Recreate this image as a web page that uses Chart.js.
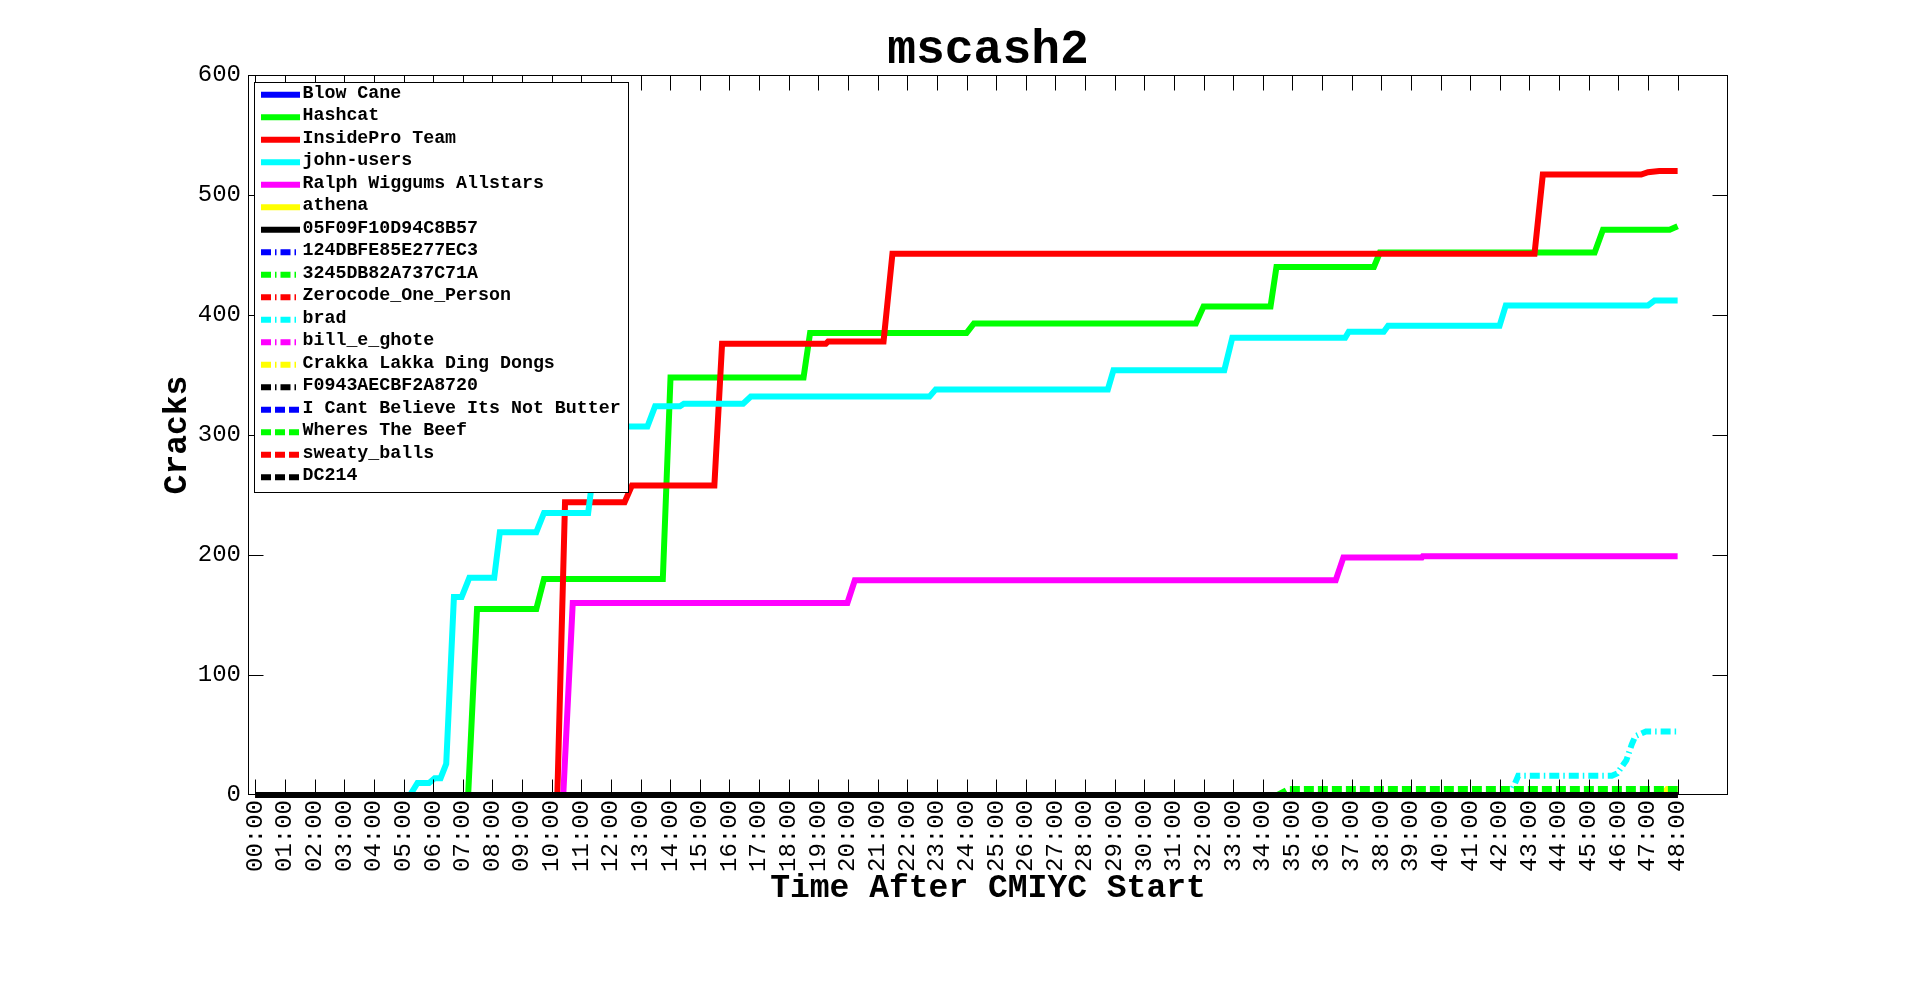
<!DOCTYPE html>
<html>
<head>
<meta charset="utf-8">
<title>mscash2</title>
<script src="https://cdn.jsdelivr.net/npm/chart.js@4.4.1/dist/chart.umd.min.js"></script>
<style>
  html, body { margin: 0; padding: 0; background: #fff; }
  canvas { display: block; }
</style>
</head>
<body>
<canvas id="myChart" width="1909" height="990"></canvas>
<script>
// cracks per team, x = hours after the contest started
const teams = [
  "Blow Cane", "Hashcat", "InsidePro Team", "john-users", "Ralph Wiggums Allstars",
  "athena", "05F09F10D94C8B57", "124DBFE85E277EC3", "3245DB82A737C71A",
  "Zerocode_One_Person", "brad", "bill_e_ghote", "Crakka Lakka Ding Dongs",
  "F0943AECBF2A8720", "I Cant Believe Its Not Butter", "Wheres The Beef",
  "sweaty_balls", "DC214"
];

const zeroHours = [0, 48];
const zeroCracks = [0, 0];

const hashcatHours = [0, 7.18, 7.48, 9.48, 9.74, 13.75, 14.01, 18.5, 18.72, 24.0, 24.25, 31.74, 32.0, 34.26, 34.46, 37.75, 37.95, 45.2, 45.48, 47.73, 48];
const hashcatCracks = [0, 0, 155, 155, 180, 180, 348, 348, 385, 385, 393, 393, 407, 407, 440, 440, 452, 452, 471, 471, 474];

const insideProHours = [0, 10.19, 10.45, 12.46, 12.71, 15.49, 15.75, 19.25, 19.33, 21.2, 21.5, 43.17, 43.45, 46.77, 47.0, 47.38, 48];
const insideProCracks = [0, 0, 244, 244, 258, 258, 376, 376, 378, 378, 451, 451, 517, 517, 519, 520, 520];

const johnHours = [0, 5.22, 5.47, 5.86, 6.05, 6.25, 6.44, 6.7, 6.96, 7.22, 8.06, 8.25, 9.48, 9.74, 11.23, 11.55, 11.8, 13.23, 13.49, 14.33, 14.46, 16.46, 16.72, 22.75, 22.96, 28.77, 28.96, 32.7, 32.97, 36.78, 36.9, 38.08, 38.23, 41.99, 42.2, 47.0, 47.22, 48];
const johnCracks = [0, 0, 10, 10, 14, 14, 26, 165, 165, 181, 181, 219, 219, 235, 235, 298, 307, 307, 324, 324, 326, 326, 332, 332, 338, 338, 354, 354, 381, 381, 386, 386, 391, 391, 408, 408, 412, 412];

const ralphHours = [0, 10.39, 10.71, 19.98, 20.23, 36.46, 36.72, 39.37, 39.4, 48];
const ralphCracks = [0, 0, 160, 160, 179, 179, 198, 198, 199, 199];

const athenaHours = [0, 47.5, 47.65, 48];
const athenaCracks = [0, 0, 5, 5];

const bradHours = [0, 42.34, 42.62, 45.78, 45.96, 46.27, 46.45, 46.57, 46.93, 48];
const bradCracks = [0, 0, 16, 16, 18, 29, 42, 49, 53, 53];

const beefHours = [0, 34.5, 34.87, 48];
const beefCracks = [0, 0, 5, 5];

const seriesHours = [zeroHours, hashcatHours, insideProHours, johnHours, ralphHours, athenaHours, zeroHours,
  zeroHours, zeroHours, zeroHours, bradHours, zeroHours, zeroHours, zeroHours,
  zeroHours, beefHours, zeroHours, zeroHours];
const seriesCracks = [zeroCracks, hashcatCracks, insideProCracks, johnCracks, ralphCracks, athenaCracks, zeroCracks,
  zeroCracks, zeroCracks, zeroCracks, bradCracks, zeroCracks, zeroCracks, zeroCracks,
  zeroCracks, beefCracks, zeroCracks, zeroCracks];

const hourTicks = [0, 1, 2, 3, 4, 5, 6, 7, 8, 9, 10, 11, 12, 13, 14, 15, 16, 17, 18, 19, 20, 21, 22, 23, 24,
  25, 26, 27, 28, 29, 30, 31, 32, 33, 34, 35, 36, 37, 38, 39, 40, 41, 42, 43, 44, 45, 46, 47, 48];
const hourLabels = ["00:00", "01:00", "02:00", "03:00", "04:00", "05:00", "06:00", "07:00", "08:00", "09:00",
  "10:00", "11:00", "12:00", "13:00", "14:00", "15:00", "16:00", "17:00", "18:00", "19:00",
  "20:00", "21:00", "22:00", "23:00", "24:00", "25:00", "26:00", "27:00", "28:00", "29:00",
  "30:00", "31:00", "32:00", "33:00", "34:00", "35:00", "36:00", "37:00", "38:00", "39:00",
  "40:00", "41:00", "42:00", "43:00", "44:00", "45:00", "46:00", "47:00", "48:00"];

// matlab style colour cycle, then solid / dash-dot / dashed
const lineColors = ["#0000ff", "#00ff00", "#ff0000", "#00ffff", "#ff00ff", "#ffff00", "#000000",
  "#0000ff", "#00ff00", "#ff0000", "#00ffff", "#ff00ff", "#ffff00", "#000000",
  "#0000ff", "#00ff00", "#ff0000", "#000000"];
const dashDot = [10, 4, 1.5, 4];
const dashed = [10, 4];

const FONT = "'Liberation Mono', 'DejaVu Sans Mono', monospace";

var datasets = teams.map(function (name, i) {
  var dash = i < 7 ? [] : (i < 14 ? dashDot : dashed);
  return {
    label: name,
    data: seriesHours[i].map((h, k) => ({ x: h, y: seriesCracks[i][k] })),
    borderColor: lineColors[i],
    backgroundColor: lineColors[i],
    borderWidth: 6,
    borderDash: dash,
    borderCapStyle: "butt",
    borderJoinStyle: "miter",
    pointRadius: 0,
    tension: 0,
    fill: false,
    clip: 4,
    // later teams on top, like the original plot; solid black zero line on top
    order: i == 6 ? 0 : teams.length - i
  };
});

// axis box with inward ticks on all four sides
const axesBox = {
  id: "axesBox",
  afterDatasetsDraw(chart) {
    const { ctx, chartArea: a, scales } = chart;
    const L = Math.round(a.left) + 0.5, R = Math.round(a.right) - 0.5;
    const T = Math.round(a.top) + 0.5, B = Math.round(a.bottom) - 0.5;
    ctx.save();
    ctx.strokeStyle = "#000";
    ctx.lineWidth = 1;
    ctx.setLineDash([]);
    ctx.strokeRect(L, T, R - L, B - T);
    ctx.beginPath();
    scales.x.ticks.forEach((t) => {
      const px = Math.round(scales.x.getPixelForValue(t.value)) + 0.5;
      ctx.moveTo(px, B); ctx.lineTo(px, B - 15);
      ctx.moveTo(px, T); ctx.lineTo(px, T + 15);
    });
    scales.y.ticks.forEach((t) => {
      // the ones at the bottom and top edge sit on the box itself
      if (t.value <= scales.y.min || t.value >= scales.y.max) return;
      const py = Math.round(scales.y.getPixelForValue(t.value)) + 0.5;
      ctx.moveTo(L, py); ctx.lineTo(L + 15, py);
      ctx.moveTo(R, py); ctx.lineTo(R - 15, py);
    });
    ctx.stroke();
    ctx.restore();
  }
};

// boxed legend in the top left corner of the plot
const boxLegend = {
  id: "boxLegend",
  afterDraw(chart) {
    const { ctx, chartArea: a } = chart;
    const x0 = Math.round(a.left + 6), y0 = Math.round(a.top + 6.5);
    const w = 374, h = 410;
    ctx.save();
    ctx.fillStyle = "#fff";
    ctx.fillRect(x0, y0, w, h);
    ctx.strokeStyle = "#000";
    ctx.lineWidth = 1;
    ctx.strokeRect(x0 + 0.5, y0 + 0.5, w, h);
    ctx.font = "bold 18.3px " + FONT;
    ctx.textBaseline = "alphabetic";
    ctx.textAlign = "left";
    chart.data.datasets.forEach((ds, i) => {
      const base = y0 + 15.7 + i * 22.5;
      ctx.strokeStyle = ds.borderColor;
      ctx.lineWidth = 6;
      ctx.lineCap = "butt";
      ctx.setLineDash(ds.borderDash || []);
      ctx.beginPath();
      ctx.moveTo(x0 + 7, base - 3);
      ctx.lineTo(x0 + 46, base - 3);
      ctx.stroke();
      ctx.setLineDash([]);
      ctx.fillStyle = "#000";
      ctx.fillText(ds.label, x0 + 48.5, base);
    });
    ctx.restore();
  }
};

Chart.defaults.font.family = FONT;
Chart.defaults.color = "#000";

const ctx = document.getElementById("myChart").getContext("2d");
var myChart = new Chart(ctx, {
  type: "line",
  data: { datasets: datasets },
  plugins: [axesBox, boxLegend],
  options: {
    responsive: false,
    animation: false,
    devicePixelRatio: 1,
    layout: { padding: { left: 158, right: 181, top: 0, bottom: 82 } },
    plugins: {
      legend: { display: false },
      tooltip: { enabled: false },
      title: {
        display: true,
        text: "mscash2",
        fullSize: false,
        color: "#000",
        font: { family: FONT, size: 48, weight: "bold", lineHeight: 1 },
        padding: { top: 27, bottom: 0 }
      }
    },
    scales: {
      x: {
        type: "linear",
        min: -0.25,
        max: 49.7,
        grid: { display: false, drawTicks: false },
        border: { display: false },
        afterBuildTicks: function (scale) {
          scale.ticks = hourTicks.map((v) => ({ value: v }));
        },
        afterFit: function (scale) { scale.height = 113; },
        ticks: {
          autoSkip: false,
          minRotation: 90,
          maxRotation: 90,
          padding: 5,
          font: { family: FONT, size: 24 },
          callback: function (value) {
            const k = hourTicks.indexOf(value);
            return k >= 0 ? hourLabels[k] : "";
          }
        },
        title: {
          display: true,
          text: "Time After CMIYC Start",
          padding: 0,
          font: { family: FONT, size: 33, weight: "bold" }
        }
      },
      y: {
        min: 0,
        max: 600,
        grid: { display: false, drawTicks: false },
        border: { display: false },
        afterFit: function (scale) { scale.width = 90; },
        ticks: {
          stepSize: 100,
          padding: 7,
          font: { family: FONT, size: 24 }
        },
        title: {
          display: true,
          text: "Cracks",
          padding: 0,
          font: { family: FONT, size: 33, weight: "bold" }
        }
      }
    }
  }
});
</script>
</body>
</html>
